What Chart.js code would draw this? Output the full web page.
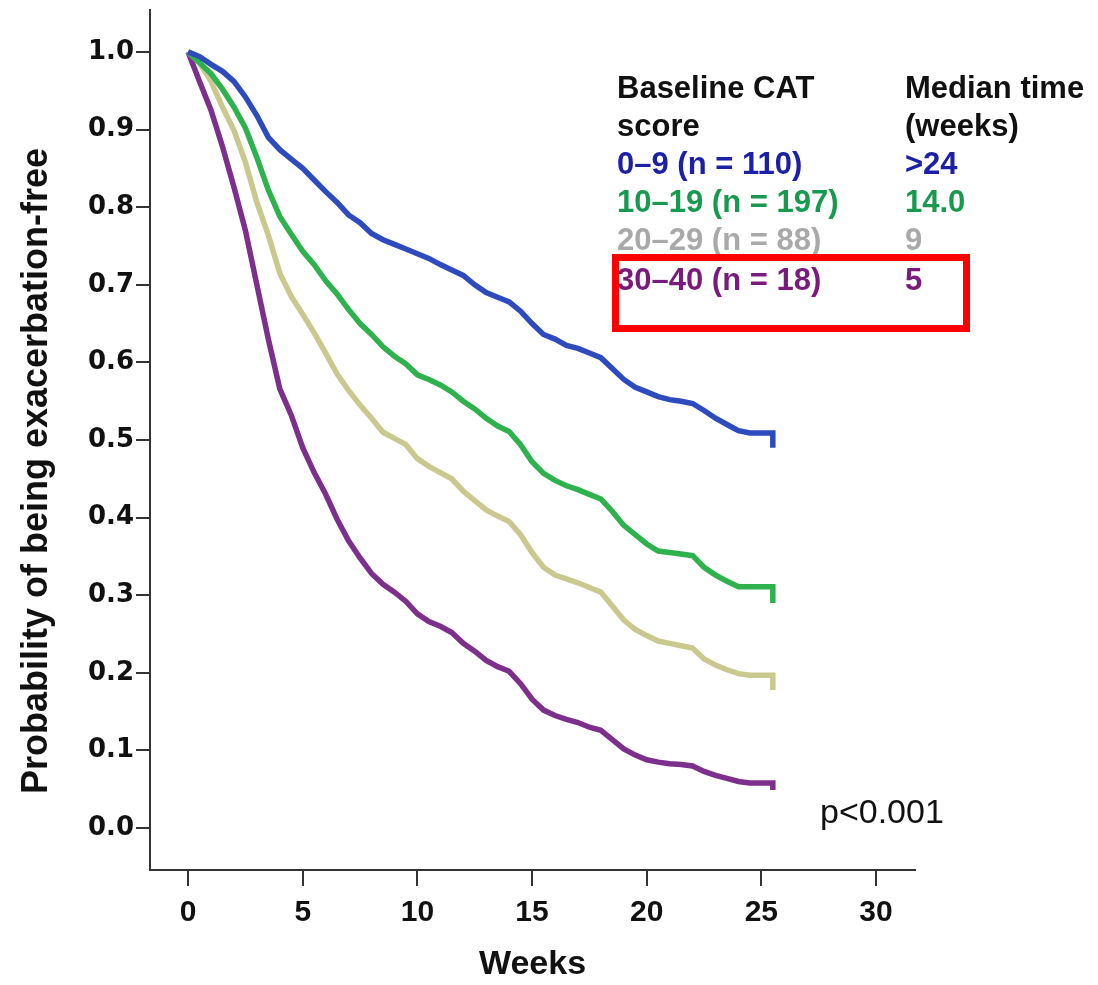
<!DOCTYPE html>
<html>
<head>
<meta charset="utf-8">
<script src="https://cdn.jsdelivr.net/npm/chart.js@4.4.1/dist/chart.umd.min.js"></script>
<style>
  html, body { margin: 0; padding: 0; background: #fff; }
</style>
</head>
<body>
<canvas id="chart1" width="1098" height="985"></canvas>
<script>
// weeks 0 .. 25.5, read every half week
const weeks = [0, 0.5, 1, 1.5, 2, 2.5, 3, 3.5, 4, 4.5, 5, 5.5, 6, 6.5, 7, 7.5, 8, 8.5, 9, 9.5,
  10, 10.5, 11, 11.5, 12, 12.5, 13, 13.5, 14, 14.5, 15, 15.5, 16, 16.5, 17, 17.5, 18, 18.5, 19, 19.5,
  20, 20.5, 21, 21.5, 22, 22.5, 23, 23.5, 24, 24.5, 25, 25.5];

const cat0to9 = [1.0, 0.994, 0.984, 0.975, 0.962, 0.942, 0.918, 0.890, 0.874, 0.862, 0.850, 0.835, 0.820, 0.806, 0.790, 0.780, 0.766, 0.758, 0.752, 0.746,
  0.740, 0.734, 0.726, 0.719, 0.712, 0.700, 0.690, 0.684, 0.678, 0.666, 0.650, 0.636, 0.630, 0.622, 0.618, 0.612, 0.606, 0.592, 0.578, 0.568,
  0.562, 0.556, 0.552, 0.550, 0.547, 0.538, 0.528, 0.520, 0.512, 0.509, 0.509, 0.509];
const cat10to19 = [1.0, 0.986, 0.972, 0.952, 0.929, 0.902, 0.864, 0.822, 0.788, 0.765, 0.743, 0.726, 0.705, 0.688, 0.668, 0.650, 0.636, 0.620, 0.608, 0.598,
  0.584, 0.578, 0.571, 0.562, 0.550, 0.540, 0.528, 0.518, 0.511, 0.494, 0.472, 0.457, 0.448, 0.441, 0.436, 0.430, 0.424, 0.408, 0.390, 0.378,
  0.366, 0.357, 0.355, 0.353, 0.351, 0.336, 0.326, 0.318, 0.311, 0.311, 0.311, 0.311];
const cat20to29 = [1.0, 0.986, 0.962, 0.929, 0.899, 0.858, 0.806, 0.764, 0.715, 0.685, 0.662, 0.638, 0.612, 0.585, 0.564, 0.545, 0.528, 0.510, 0.502, 0.494,
  0.476, 0.466, 0.458, 0.450, 0.434, 0.422, 0.410, 0.402, 0.395, 0.378, 0.355, 0.336, 0.326, 0.321, 0.316, 0.310, 0.304, 0.286, 0.268, 0.256,
  0.248, 0.241, 0.238, 0.235, 0.232, 0.218, 0.210, 0.204, 0.199, 0.197, 0.197, 0.197];
const cat30to40 = [1.0, 0.962, 0.925, 0.878, 0.826, 0.770, 0.700, 0.630, 0.566, 0.532, 0.490, 0.458, 0.430, 0.398, 0.370, 0.348, 0.328, 0.314, 0.304, 0.292,
  0.276, 0.266, 0.260, 0.252, 0.238, 0.228, 0.216, 0.208, 0.202, 0.186, 0.166, 0.152, 0.145, 0.140, 0.136, 0.130, 0.126, 0.114, 0.102, 0.094,
  0.088, 0.085, 0.083, 0.082, 0.080, 0.073, 0.068, 0.064, 0.060, 0.058, 0.058, 0.058];
// last censored drop at 25.5 weeks
const endValues = [0.490, 0.290, 0.178, 0.049];

const groupLabels = ['0–9 (n = 110)', '10–19 (n = 197)', '20–29 (n = 88)', '30–40 (n = 18)'];
const medianTimes = ['>24', '14.0', '9', '5'];
const xTicks = [0, 5, 10, 15, 20, 25, 30];
const yTicks = [0, 0.1, 0.2, 0.3, 0.4, 0.5, 0.6, 0.7, 0.8, 0.9, 1.0];

const lineColors = ['#2e4bbd', '#2fb24d', '#c9c98f', '#7c2f8b'];
const textColors = ['#1c20a6', '#17994f', '#a9a9a9', '#7a1a7c'];

const series = [cat0to9, cat10to19, cat20to29, cat30to40];

function toPoints(vals, end) {
  const pts = vals.map((v, i) => ({ x: weeks[i], y: v }));
  pts.push({ x: weeks[weeks.length - 1], y: end });
  return pts;
}

const overlay = {
  id: 'overlay',
  afterDraw(chart) {
    const c = chart.ctx;
    c.save();
    // y axis title
    c.save();
    c.translate(37, 471);
    c.rotate(-Math.PI / 2);
    c.font = 'bold 36px "Liberation Sans", Arial, sans-serif';
    c.textAlign = 'center';
    c.textBaseline = 'middle';
    c.fillStyle = '#111';
    c.fillText('Probability of being exacerbation-free', 0, 0);
    c.restore();

    // table legend
    c.font = 'bold 31px "Liberation Sans", Arial, sans-serif';
    c.textAlign = 'left';
    c.textBaseline = 'middle';
    c.fillStyle = '#111';
    c.fillText('Baseline CAT', 617, 89);
    c.fillText('score', 617, 127);
    c.fillText('Median time', 905, 89);
    c.fillText('(weeks)', 905, 127);
    const rows = [165, 203, 241, 281];
    groupLabels.forEach((g, i) => {
      c.fillStyle = textColors[i];
      c.fillText(g, 617, rows[i]);
      c.fillText(medianTimes[i], 905, rows[i]);
    });

    c.strokeStyle = '#ff0000';
    c.lineWidth = 7;
    c.strokeRect(615.5, 257.5, 351, 71);

    c.font = '34px "Liberation Sans", Arial, sans-serif';
    c.fillStyle = '#111';
    c.fillText('p<0.001', 820, 814);
    c.restore();
  }
};

const ctx = document.getElementById('chart1').getContext('2d');
const myChart = new Chart(ctx, {
  type: 'line',
  data: {
    datasets: series.map((s, i) => ({
      label: groupLabels[i],
      data: toPoints(s, endValues[i]),
      borderColor: lineColors[i],
      borderWidth: 5.5,
      pointRadius: 0,
      tension: 0,
      fill: false,
    })),
  },
  options: {
    responsive: false,
    animation: false,
    layout: { padding: { top: 10, right: 183, left: 0, bottom: 0 } },
    plugins: { legend: { display: false }, tooltip: { enabled: false } },
    scales: {
      x: {
        type: 'linear',
        min: -1.66,
        max: 31.7,
        afterBuildTicks: (s) => { s.ticks = xTicks.map((v) => ({ value: v })); },
        afterFit: (s) => { s.height = 115; s.paddingLeft = 0; s.paddingRight = 0; },
        grid: { drawOnChartArea: false, drawTicks: true, tickLength: 16, color: '#333', lineWidth: 2 },
        border: { display: true, color: '#333', width: 2 },
        ticks: {
          color: '#111',
          padding: 9,
          maxRotation: 0,
          font: { family: '"Liberation Sans", Arial, sans-serif', size: 30, weight: 'bold' },
        },
        title: {
          display: true,
          text: 'Weeks',
          color: '#111',
          font: { family: '"Liberation Sans", Arial, sans-serif', size: 34, weight: 'bold' },
          padding: { top: 0, bottom: 0 },
        },
      },
      y: {
        type: 'linear',
        min: -0.054,
        max: 1.054,
        afterBuildTicks: (s) => { s.ticks = yTicks.map((v) => ({ value: v })); },
        afterFit: (s) => { s.width = 150; s.paddingTop = 0; s.paddingBottom = 0; },
        grid: { drawOnChartArea: false, drawTicks: true, tickLength: 14, color: '#333', lineWidth: 2 },
        border: { display: true, color: '#333', width: 2 },
        ticks: {
          color: '#111',
          padding: 2,
          callback: (v) => Number(v).toFixed(1),
          font: { family: '"DejaVu Sans", sans-serif', size: 26, weight: 'bold' },
        },
      },
    },
  },
  plugins: [overlay],
});
</script>
</body>
</html>
